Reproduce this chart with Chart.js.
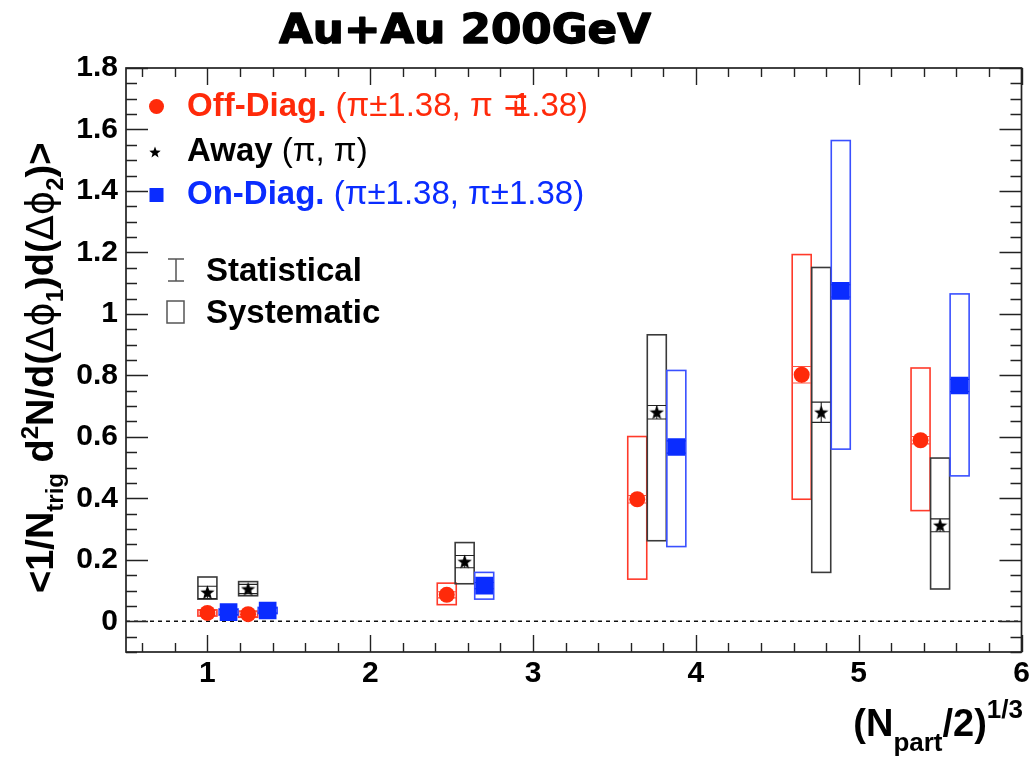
<!DOCTYPE html>
<html>
<head>
<meta charset="utf-8">
<script src="https://cdn.jsdelivr.net/npm/chart.js@4/dist/chart.umd.min.js"></script>
<style>
  html, body { margin: 0; padding: 0; background: #fff; }
  canvas { display: block; }
</style>
</head>
<body>
<canvas id="c" width="1034" height="759"></canvas>
<script>
// ---- Data: (N_part/2)^(1/3) positions, yields, systematic ranges, statistical errors ----
const offX      = [1.00, 1.25, 2.47, 3.64, 4.65, 5.38];
const offY      = [0.027, 0.023, 0.086, 0.397, 0.802, 0.589];
const offSysLo  = [0.017, 0.013, 0.054, 0.137, 0.397, 0.360];
const offSysHi  = [0.037, 0.033, 0.124, 0.601, 1.193, 0.824];
const offStat   = [0.008, 0.008, 0.010, 0.012, 0.027, 0.012];

const awayX     = [1.00, 1.25, 2.58, 3.76, 4.77, 5.50];
const awayY     = [0.094, 0.105, 0.194, 0.680, 0.680, 0.312];
const awaySysLo = [0.072, 0.083, 0.122, 0.262, 0.159, 0.105];
const awaySysHi = [0.144, 0.129, 0.256, 0.932, 1.151, 0.531];
const awayStat  = [0.020, 0.015, 0.020, 0.022, 0.033, 0.021];

const onX       = [1.13, 1.37, 2.70, 3.88, 4.89, 5.62];
const onY       = [0.030, 0.035, 0.116, 0.567, 1.075, 0.767];
const onSysLo   = [0.020, 0.025, 0.072, 0.243, 0.560, 0.473];
const onSysHi   = [0.040, 0.045, 0.159, 0.816, 1.564, 1.065];
const onStat    = [0.008, 0.008, 0.010, 0.020, 0.020, 0.020];

const xTicks      = [1, 2, 3, 4, 5, 6];
const xTickLabels = ['1', '2', '3', '4', '5', '6'];
const yTicks      = [0, 0.2, 0.4, 0.6, 0.8, 1.0, 1.2, 1.4, 1.6, 1.8];
const yTickLabels = ['0', '0.2', '0.4', '0.6', '0.8', '1', '1.2', '1.4', '1.6', '1.8'];

const seriesLabels = ['Off-Diag.', 'Away', 'On-Diag.'];
const seriesRanges = ['(\u03C0\u00B11.38, \u03C0 \u22131.38)', '(\u03C0, \u03C0)', '(\u03C0\u00B11.38, \u03C0\u00B11.38)'];

// ---- Styles ----
const RED = '#ff2a0a';
const BLUE = '#0a2cff';
const BLACK = '#000000';
const SANS = '"Liberation Sans", Arial, Helvetica, sans-serif';
const BOX_HALF = 9.5;   // half width of systematic boxes, px

function makeStar(size, color) {
  const c = document.createElement('canvas');
  c.width = c.height = size;
  const g = c.getContext('2d');
  g.fillStyle = color;
  g.beginPath();
  const cx = size / 2, cy = size / 2 + 0.6, R = size / 2, r = R * 0.42;
  for (let k = 0; k < 10; k++) {
    const a = -Math.PI / 2 + k * Math.PI / 5;
    const rad = k % 2 ? r : R;
    g.lineTo(cx + rad * Math.cos(a), cy + rad * Math.sin(a));
  }
  g.closePath();
  g.fill();
  return c;
}
const starImg = makeStar(15, BLACK);

function pts(xs, ys) { return xs.map((x, i) => ({ x: x, y: ys[i] })); }

const errorSets = [
  { xs: offX,  ys: offY,  lo: offSysLo,  hi: offSysHi,  stat: offStat,  box: '#ff3a2a', bar: '#ff5040' },
  { xs: awayX, ys: awayY, lo: awaySysLo, hi: awaySysHi, stat: awayStat, box: '#3a3a3a', bar: '#222' },
  { xs: onX,   ys: onY,   lo: onSysLo,   hi: onSysHi,   stat: onStat,   box: '#3a50ff', bar: BLUE }
];

// Systematic boxes and statistical bars, drawn under the markers
const errorPlugin = {
  id: 'errors',
  beforeDatasetsDraw(chart) {
    const { ctx, scales: { x, y } } = chart;
    ctx.save();
    errorSets.forEach(s => {
      s.xs.forEach((xv, i) => {
        const px = x.getPixelForValue(xv);
        const top = y.getPixelForValue(s.hi[i]);
        const bot = y.getPixelForValue(s.lo[i]);
        ctx.strokeStyle = s.box;
        ctx.lineWidth = 1.6;
        ctx.strokeRect(px - BOX_HALF, top, 2 * BOX_HALF, bot - top);
        const st = y.getPixelForValue(s.ys[i] + s.stat[i]);
        const sb = y.getPixelForValue(s.ys[i] - s.stat[i]);
        ctx.strokeStyle = s.bar;
        ctx.lineWidth = 1.1;
        ctx.beginPath();
        ctx.moveTo(px, st); ctx.lineTo(px, sb);
        ctx.moveTo(px - BOX_HALF, st); ctx.lineTo(px + BOX_HALF, st);
        ctx.moveTo(px - BOX_HALF, sb); ctx.lineTo(px + BOX_HALF, sb);
        ctx.stroke();
      });
    });
    // dashed zero line
    const y0 = y.getPixelForValue(0);
    ctx.strokeStyle = '#111';
    ctx.lineWidth = 1.3;
    ctx.setLineDash([4, 4]);
    ctx.beginPath();
    ctx.moveTo(chart.chartArea.left, y0);
    ctx.lineTo(chart.chartArea.right, y0);
    ctx.stroke();
    ctx.restore();
  }
};

// Text with sub/superscripts: segments of {t, f, dy, kern}
function drawRich(ctx, segs, x, y, align) {
  let w = 0;
  segs.forEach(s => { ctx.font = s.f; w += ctx.measureText(s.t).width + (s.kern || 0); });
  let cx = align === 'right' ? x - w : x;
  segs.forEach(s => {
    ctx.font = s.f;
    ctx.fillText(s.t, cx, y + (s.dy || 0));
    cx += ctx.measureText(s.t).width + (s.kern || 0);
  });
  return w;
}

// Frame, inward ticks, titles and legend
const framePlugin = {
  id: 'frame',
  afterDraw(chart) {
    const { ctx, chartArea: a, scales: { x, y } } = chart;
    ctx.save();
    ctx.strokeStyle = '#222';
    ctx.lineWidth = 1.7;
    ctx.strokeRect(a.left, a.top, a.right - a.left, a.bottom - a.top);

    ctx.lineWidth = 1.4;
    ctx.beginPath();
    // y ticks: major every 0.2, minor every 0.05
    for (let k = -2; k <= 36; k++) {
      const v = k * 0.05;
      const py = Math.round(y.getPixelForValue(v)) + 0.5;
      if (py < a.top - 0.5 || py > a.bottom + 0.5) continue;
      const len = (k % 4 === 0) ? 22 : 11;
      ctx.moveTo(a.left, py); ctx.lineTo(a.left + len, py);
      ctx.moveTo(a.right, py); ctx.lineTo(a.right - len, py);
    }
    // x ticks: major every 1, minor every 0.2
    for (let k = 3; k <= 30; k++) {
      const v = k * 0.2;
      const px = Math.round(x.getPixelForValue(v)) + 0.5;
      const len = (k % 5 === 0) ? 17 : 9;
      ctx.moveTo(px, a.bottom); ctx.lineTo(px, a.bottom - len);
      ctx.moveTo(px, a.top); ctx.lineTo(px, a.top + len);
    }
    ctx.stroke();

    // title
    ctx.fillStyle = '#000';
    ctx.strokeStyle = '#000';
    ctx.textBaseline = 'alphabetic';
    ctx.font = 'bold 40px "DejaVu Sans", Verdana, sans-serif';
    const title = 'Au+Au 200GeV';
    const tw = ctx.measureText(title).width;
    ctx.save();
    ctx.translate(279, 43);
    ctx.scale(372 / tw, 1);
    ctx.lineWidth = 1.3;
    ctx.lineJoin = 'round';
    ctx.fillText(title, 0, 0);
    ctx.strokeText(title, 0, 0);
    ctx.restore();

    // x axis title
    const fB = 'bold 38px ' + SANS, fS = 'bold 26px ' + SANS;
    drawRich(ctx, [
      { t: '(N', f: fB }, { t: 'part', f: fS, dy: 15 },
      { t: '/2)', f: fB }, { t: '1/3', f: fS, dy: -18 }
    ], 1023, 736, 'right');

    // y axis title (rotated)
    ctx.save();
    ctx.translate(53, 593);
    ctx.rotate(-Math.PI / 2);
    const yB = 'bold 38px ' + SANS, yS = 'bold 24px ' + SANS;
    const yG = '37px "DejaVu Sans", sans-serif';
    drawRich(ctx, [
      { t: '<1/N', f: yB }, { t: 'trig', f: yS, dy: 10 },
      { t: ' d', f: yB }, { t: '2', f: yS, dy: -15 },
      { t: 'N/d(', f: yB }, { t: '\u0394\u03D5', f: yG }, { t: '1', f: yS, dy: 10 },
      { t: ')d(', f: yB }, { t: '\u0394\u03D5', f: yG }, { t: '2', f: yS, dy: 10 },
      { t: ')>', f: yB }
    ], 0, 0, 'left');
    ctx.restore();

    // legend
    const lB = 'bold 33px ' + SANS, lR = '33px ' + SANS;
    // Off-Diag.
    ctx.fillStyle = RED;
    ctx.beginPath(); ctx.arc(156.5, 106.5, 7.5, 0, Math.PI * 2); ctx.fill();
    drawRich(ctx, [
      { t: seriesLabels[0] + ' ', f: lB },
      { t: seriesRanges[0].slice(0, 11), f: lR },
      { t: seriesRanges[0].slice(11, 12), f: lR, kern: -17 },
      { t: seriesRanges[0].slice(12), f: lR }
    ], 187, 116, 'left');
    // Away
    ctx.fillStyle = BLACK;
    ctx.drawImage(makeStar(12, BLACK), 149, 146);
    drawRich(ctx, [{ t: seriesLabels[1] + ' ', f: lB }, { t: seriesRanges[1], f: lR }], 187, 161, 'left');
    // On-Diag.
    ctx.fillStyle = BLUE;
    ctx.fillRect(149.5, 188, 14, 14);
    drawRich(ctx, [{ t: seriesLabels[2] + ' ', f: lB }, { t: seriesRanges[2], f: lR }], 187, 204, 'left');
    // Statistical / Systematic keys
    ctx.strokeStyle = '#555';
    ctx.lineWidth = 1.5;
    ctx.beginPath();
    ctx.moveTo(176, 259); ctx.lineTo(176, 281);
    ctx.moveTo(168, 259); ctx.lineTo(184, 259);
    ctx.moveTo(168, 281); ctx.lineTo(184, 281);
    ctx.stroke();
    ctx.strokeRect(167, 301, 17, 22);
    ctx.fillStyle = BLACK;
    ctx.font = lB;
    ctx.fillText('Statistical', 206, 281);
    ctx.fillText('Systematic', 206, 323);
    ctx.restore();
  }
};

const tickFont = { family: SANS, size: 30, weight: 'bold' };

new Chart(document.getElementById('c'), {
  type: 'scatter',
  data: {
    datasets: [
      { label: seriesLabels[0], data: pts(offX, offY), pointStyle: 'circle', pointRadius: 8,
        backgroundColor: RED, borderColor: RED, borderWidth: 0 },
      { label: seriesLabels[1], data: pts(awayX, awayY), pointStyle: starImg, pointRadius: 8,
        backgroundColor: BLACK, borderColor: BLACK },
      { label: seriesLabels[2], data: pts(onX, onY), pointStyle: 'rect', pointRadius: 12.5,
        backgroundColor: BLUE, borderColor: BLUE, borderWidth: 0 }
    ]
  },
  options: {
    responsive: false,
    animation: false,
    devicePixelRatio: 1,
    layout: { padding: { top: 68, right: 12, left: 0, bottom: 0 } },
    plugins: { legend: { display: false }, title: { display: false }, tooltip: { enabled: false } },
    scales: {
      x: {
        type: 'linear', min: 0.5, max: 6,
        afterBuildTicks: s => { s.ticks = xTicks.map(v => ({ value: v })); },
        afterFit: s => { s.height = 107; },
        grid: { display: false, drawTicks: false },
        border: { display: false },
        ticks: { font: tickFont, color: '#000', padding: 4,
                 callback: (v, i) => xTickLabels[i] }
      },
      y: {
        type: 'linear', min: -0.1, max: 1.8,
        afterBuildTicks: s => { s.ticks = yTicks.map(v => ({ value: v })); },
        afterFit: s => { s.width = 126; },
        grid: { display: false, drawTicks: false },
        border: { display: false },
        ticks: { font: tickFont, color: '#000', padding: 8,
                 callback: (v, i) => yTickLabels[i] }
      }
    }
  },
  plugins: [errorPlugin, framePlugin]
});
</script>
</body>
</html>
